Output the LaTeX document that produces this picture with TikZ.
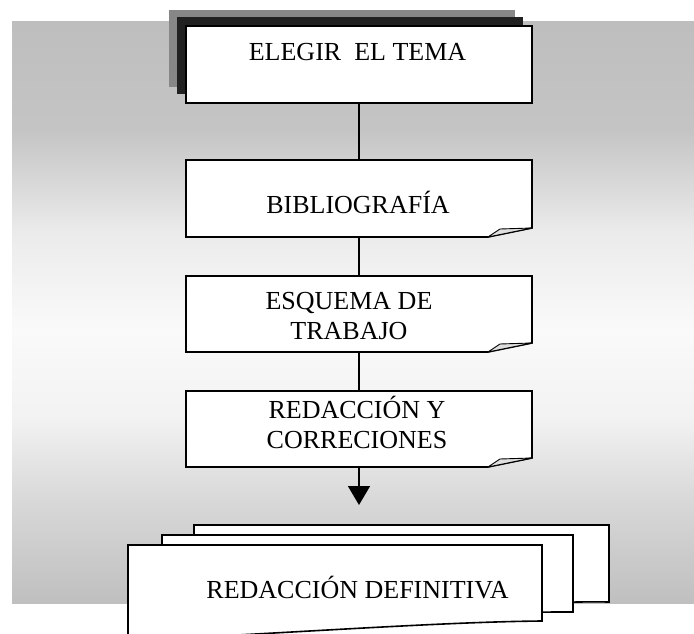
\documentclass[tikz,border=0pt]{standalone}
\usepackage{fontspec}
\setmainfont{Liberation Serif}
\usetikzlibrary{arrows.meta}
\pgfdeclareverticalshading{bgfade}{100bp}{color(0bp)=(white!75!black); color(25bp)=(white!75!black); color(34bp)=(white!85!black); color(41bp)=(white!95!black); color(48.5bp)=(white!98!black); color(57bp)=(white!92!black); color(65.7bp)=(white!77!black); color(75bp)=(white!74.5!black); color(100bp)=(white!74.5!black)}
\tikzset{
  boxframe/.style={minimum width=346pt,minimum height=77pt,inner sep=0pt,outer sep=0pt},
  txt/.style={font=\fontsize{26}{29.5}\selectfont,align=center,anchor=base,inner sep=0pt},
  link/.style={line width=1.6pt},
  doc/.style={draw,line width=1.6pt,fill=white},
}
% box with a curled lower right corner
\newcommand{\foldbox}[1]{%
  \draw[doc] (#1.north west) -- (#1.north east) -- ([yshift=9pt]#1.south east)
    -- ([xshift=-44pt]#1.south east) -- (#1.south west) -- cycle;
  \draw[line width=0.9pt,fill=gray!25] ([xshift=-44pt]#1.south east)
    -- ([xshift=-32pt,yshift=8pt]#1.south east) -- ([yshift=9pt]#1.south east) -- cycle;}
\begin{document}
\begin{tikzpicture}[x=1pt,y=-1pt]
            \useasboundingbox (0,0) rectangle (694,634);
            \shade[shading=bgfade] (12,22) rectangle (694,603);
            % boxes
            \node[boxframe] (tema) at (359,64.5) {};
            \node[boxframe] (biblio) at (359,198.5) {};
            \node[boxframe,minimum height=76pt] (esquema) at (359,314) {};
            \node[boxframe,minimum height=76pt] (redac) at (359,429) {};
            \fill[white!53!black] ([shift={(-17,-16)}]tema.north west) rectangle ([shift={(-17,-16)}]tema.south east);
            \fill[white!13!black] ([shift={(-9,-9)}]tema.north west) rectangle ([shift={(-9,-9)}]tema.south east);
            \draw[doc] (tema.north west) rectangle (tema.south east);
            \foldbox{biblio}
            \foldbox{esquema}
            \foldbox{redac}
            \draw[link](tema.south)--(biblio.north);
            \draw[link](biblio.south)--(esquema.north);
            \draw[link](esquema.south)--(redac.north);
            \coordinate(tip)at(359,505);
            \draw[link,-{Triangle[width=22pt,length=19pt]}](redac.south)--(tip);
            % stacked documents
            \draw[doc] (194,525) -- (609,525) -- (609,602) .. controls (480,600) and (330,625) .. (194,618) -- cycle;
            \draw[doc] (162,535) -- (573,535) -- (573,612) .. controls (440,611) and (300,634) .. (162,628) -- cycle;
            \draw[doc] (128,545) -- (542,545) -- (542,621) .. controls (430,622) and (250,636) .. (128,640) -- cycle;
            % texts (base of the last line)
            \node[txt](temaT)at(357.5,61){ELEGIR\ \ EL TEMA};
            \node[txt](biblioT)at(358,213){BIBLIOGRAFÍA};
            \node[txt](esquemaT)at(349,339){ESQUEMA DE\\TRABAJO};
            \node[txt](redacT)at(357,448){REDACCIÓN Y\\CORRECIONES};
            \node[txt](final)at(357.5,598){REDACCIÓN DEFINITIVA};
        \end{tikzpicture}
\end{document}
